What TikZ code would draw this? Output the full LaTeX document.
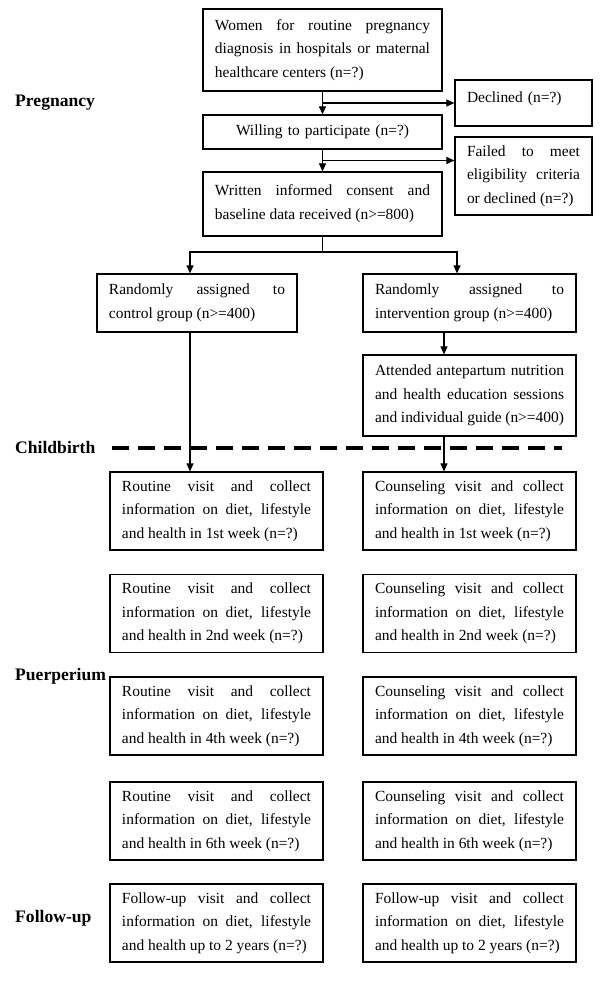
\documentclass[tikz,border=0pt]{standalone}
\usepackage{fontspec}
\setmainfont{Liberation Serif}
\usepackage{tikz}
\usetikzlibrary{shapes}
\usetikzlibrary{arrows.meta}
\usetikzlibrary{positioning}
\usetikzlibrary{calc}
\hyphenpenalty=10000
\exhyphenpenalty=10000
\tolerance=10000
\tikzstyle{bloc}=[rectangle,draw,line width=0.9pt,inner xsep=0.36cm,inner ysep=2pt,
        align=justify,font=\fontsize{13.2}{20.2}\selectfont]
\tikzstyle{grand}=[bloc,text width=6.45cm]
\tikzstyle{etroit}=[bloc,text width=3.39cm]
\tikzstyle{colonne}=[bloc,text width=5.67cm,minimum height=2.34cm]
\tikzstyle{periode}=[anchor=west,inner xsep=0pt,font=\fontsize{15}{18}\selectfont\bfseries]
\tikzstyle{trait}=[line width=1.1pt]
\tikzstyle{fleche}=[trait,-{Triangle[length=7pt,width=6pt]}]
\tikzstyle{limite}=[line width=3.4pt,dash pattern=on 14.5pt off 7.7pt]

\begin{document}
\begin{tikzpicture}[x=0.03cm,y=-0.03cm]
\useasboundingbox (0,0) rectangle (600,981);
\node[grand,minimum height=2.46cm] (femmes) at (322.5,50) {Women for routine pregnancy diagnosis in hospitals or maternal healthcare centers (n=?)};
\node[etroit,align=left,inner ysep=0pt,text height=0.66cm,text depth=0.72cm] (refus) at (523.5,103) {Declined (n=?)};
\node[grand,align=center,minimum height=1.02cm] (volont) at (322.5,132) {Willing to participate (n=?)};
\node[etroit,minimum height=2.34cm] (echec) at (523.5,176) {Failed to meet eligibility criteria or declined (n=?)};
\node[grand,minimum height=1.92cm] (consent) at (322.5,204) {Written informed consent and baseline data received (n>=800)};
\node[bloc,text width=5.28cm,minimum height=1.74cm] (controle) at (197,303) {Randomly assigned to control group (n>=400)};
\node[colonne,minimum height=1.74cm] (interv) at (469.5,303) {Randomly assigned to intervention group (n>=400)};
\node[colonne,minimum height=2.43cm] (seance) at (469.5,395.5) {Attended antepartum nutrition and health education sessions and individual guide (n>=400)};
\foreach \y/\sem [count=\i] in {511/1st,613.5/2nd,716/4th,821/6th}{
  \node[colonne] (rout\i) at (216.5,\y) {Routine visit and collect information on diet, lifestyle and health in \sem\ week (n=?)};
  \node[colonne] (cons\i) at (469.5,\y) {Counseling visit and collect information on diet, lifestyle and health in \sem\ week (n=?)};
}
\node[colonne] (suiviA) at (216.5,923) {Follow-up visit and collect information on diet, lifestyle and health up to 2 years (n=?)};
\node[colonne] (suiviB) at (469.5,923) {Follow-up visit and collect information on diet, lifestyle and health up to 2 years (n=?)};
\node[periode] (grossesse) at (15,103) {Pregnancy};
\node[periode] (naissance) at (15,447) {Childbirth};
\node[periode] (puerperium) at (15,676) {Puerperium};
\node[periode] (suivi) at (15,918) {Follow-up};
\coordinate (gauche) at (190,0);
\coordinate (droite) at (457,0);
\coordinate (milieu) at (444,0);
\coordinate (partage) at (322.5,252);
\coordinate (bif) at ($(volont.south)!.5!(consent.north)$);
%Placement des fleches
\draw[fleche] (femmes) -- (volont);
\draw[fleche] (femmes.south |- refus.west) -- (refus.west);
\draw[fleche] (volont) -- (consent);
\draw[fleche] (bif) -- (bif -| echec.west);
\draw[trait] (consent) -- (partage);
\draw[fleche] (partage) -| (gauche |- controle.north);
\draw[fleche] (partage) -| (droite |- interv.north);
\draw[fleche] (milieu |- interv.south) -- (milieu |- seance.north);
\draw[fleche] (gauche |- controle.south) -- (gauche |- rout1.north);
\draw[fleche] (milieu |- seance.south) -- (milieu |- cons1.north);
\draw[limite] (112,448) -- (562,448);
\end{tikzpicture}
\end{document}
